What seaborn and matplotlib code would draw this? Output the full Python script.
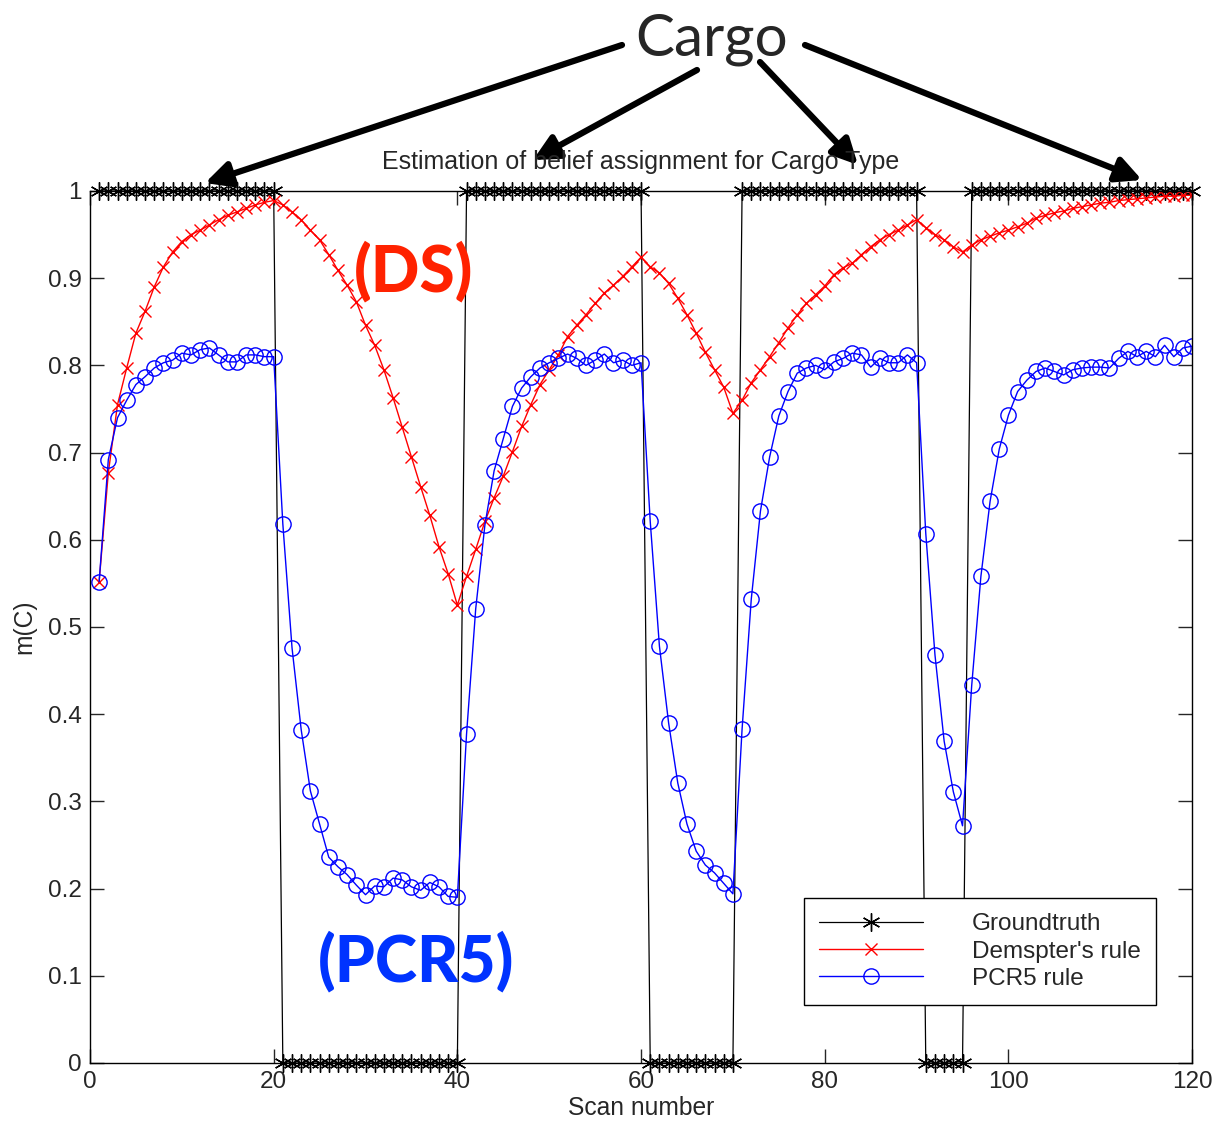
import numpy as np
import pandas as pd
import seaborn as sns
import matplotlib
matplotlib.use("Agg")
import matplotlib.pyplot as plt

# scan indices 1..120
scans = list(range(1, 121))

# ground truth: 1 = Cargo, 0 = not cargo
truth_segments = [(1, 20, 1), (21, 40, 0), (41, 60, 1), (61, 70, 0),
                  (71, 90, 1), (91, 95, 0), (96, 120, 1)]
groundtruth = []
for start, stop, val in truth_segments:
    groundtruth += [val] * (stop - start + 1)

ds_rule = [
    0.552, 0.677, 0.755, 0.797, 0.837, 0.862, 0.890, 0.913, 0.930, 0.942,
    0.950, 0.955, 0.961, 0.967, 0.972, 0.976, 0.980, 0.984, 0.987, 0.989,
    0.984, 0.976, 0.967, 0.955, 0.944, 0.927, 0.909, 0.892, 0.873, 0.846,
    0.823, 0.795, 0.763, 0.729, 0.695, 0.661, 0.628, 0.592, 0.561, 0.525,
    0.558, 0.589, 0.621, 0.648, 0.673, 0.701, 0.730, 0.755, 0.778, 0.795,
    0.812, 0.833, 0.846, 0.858, 0.871, 0.883, 0.892, 0.902, 0.913, 0.924,
    0.913, 0.906, 0.894, 0.877, 0.858, 0.837, 0.815, 0.795, 0.775, 0.745,
    0.760, 0.780, 0.795, 0.810, 0.826, 0.843, 0.858, 0.871, 0.881, 0.891,
    0.904, 0.912, 0.917, 0.927, 0.936, 0.944, 0.950, 0.955, 0.961, 0.967,
    0.958, 0.950, 0.944, 0.936, 0.930, 0.938, 0.944, 0.948, 0.952, 0.955,
    0.959, 0.963, 0.969, 0.972, 0.975, 0.977, 0.980, 0.982, 0.984, 0.986,
    0.987, 0.989, 0.990, 0.991, 0.992, 0.993, 0.994, 0.994, 0.995, 0.995,
]

pcr5_rule = [
    0.552, 0.692, 0.740, 0.760, 0.778, 0.787, 0.797, 0.803, 0.806, 0.814,
    0.812, 0.818, 0.820, 0.812, 0.804, 0.804, 0.812, 0.812, 0.810, 0.810,
    0.618, 0.476, 0.382, 0.312, 0.274, 0.236, 0.225, 0.216, 0.204, 0.193,
    0.203, 0.202, 0.212, 0.210, 0.202, 0.198, 0.207, 0.202, 0.191, 0.190,
    0.377, 0.521, 0.617, 0.679, 0.716, 0.753, 0.774, 0.787, 0.797, 0.803,
    0.808, 0.813, 0.808, 0.800, 0.806, 0.813, 0.803, 0.806, 0.800, 0.803,
    0.621, 0.478, 0.390, 0.321, 0.274, 0.243, 0.227, 0.218, 0.206, 0.194,
    0.383, 0.532, 0.633, 0.695, 0.742, 0.770, 0.791, 0.797, 0.800, 0.795,
    0.804, 0.808, 0.814, 0.812, 0.798, 0.808, 0.803, 0.803, 0.812, 0.803,
    0.607, 0.468, 0.369, 0.311, 0.272, 0.433, 0.558, 0.644, 0.704, 0.743,
    0.770, 0.783, 0.793, 0.797, 0.793, 0.789, 0.795, 0.797, 0.798, 0.798,
    0.797, 0.808, 0.816, 0.810, 0.816, 0.810, 0.823, 0.810, 0.820, 0.822,
]

df = pd.DataFrame({"Scan": scans, "truth": groundtruth,
                   "ds": ds_rule, "pcr5": pcr5_rule})

sns.set_style("ticks")
plt.rcParams["font.family"] = ["Liberation Sans", "DejaVu Sans"]
plt.rcParams["xtick.direction"] = "in"
plt.rcParams["ytick.direction"] = "in"

fig = plt.figure(figsize=(12.14, 11.3), dpi=100)
ax = fig.add_axes([0.0741, 0.0593, 0.9079, 0.7717])

sns.lineplot(x="Scan", y="truth", data=df, ax=ax, color="black", lw=0.9,
             marker=(6, 2, 0), markersize=13, markeredgewidth=1.0,
             markeredgecolor="black", label="Groundtruth", clip_on=False)
sns.lineplot(x="Scan", y="ds", data=df, ax=ax, color="red", lw=1.0,
             marker="x", markersize=8, markeredgewidth=1.0,
             markeredgecolor="red", label="Demspter's rule")
sns.lineplot(x="Scan", y="pcr5", data=df, ax=ax, color="blue", lw=1.0,
             marker="o", markersize=11, markerfacecolor="none",
             markeredgewidth=1.0, markeredgecolor="blue", label="PCR5 rule")

ax.set_xlim(0, 120)
ax.set_ylim(0, 1)
ax.set_xticks(range(0, 121, 20))
ax.set_yticks(np.arange(0, 1.01, 0.1))
ax.set_yticklabels(["0", "0.1", "0.2", "0.3", "0.4", "0.5", "0.6", "0.7",
                    "0.8", "0.9", "1"])
ax.tick_params(axis="both", which="both", labelsize=17.5, length=10, width=1,
               top=True, right=True, pad=6)
for sp in ax.spines.values():
    sp.set_linewidth(1.0)
    sp.set_color("black")

ax.set_xlabel("Scan number", fontsize=17.7, labelpad=2)
ax.set_ylabel("m(C)", fontsize=17.7, labelpad=8)
ax.set_title("Estimation of belief assignment for Cargo Type", fontsize=18,
             pad=16)

leg = ax.legend(loc="lower right", bbox_to_anchor=(0.967, 0.0665),
                borderaxespad=0, fontsize=17.5, frameon=True, fancybox=False,
                edgecolor="black", framealpha=1, handlelength=4.3,
                handletextpad=2.0, labelspacing=0.22, borderpad=0.62)
leg.get_frame().set_linewidth(1.0)

# annotations
fig.text(712 / 1214, 1 - 40 / 1130, "Cargo", fontsize=42, family="Lato",
         ha="center", va="center")
fig.text(414 / 1214, 1 - 272 / 1130, "(DS)", fontsize=46, family="Lato",
         fontweight="black", color="#ff2200", ha="center", va="center")
fig.text(416 / 1214, 1 - 962 / 1130, "(PCR5)", fontsize=46, family="Lato",
         fontweight="black", color="#0033ff", ha="center", va="center")

arrows = [((622, 45), (205, 183)), ((697, 70), (533, 160)),
          ((760, 62), (858, 165)), ((805, 45), (1142, 180))]
for (x0, y0), (x1, y1) in arrows:
    ax.annotate("", xy=(x1 / 1214, 1 - y1 / 1130),
                xytext=(x0 / 1214, 1 - y0 / 1130),
                xycoords="figure fraction", textcoords="figure fraction",
                arrowprops=dict(arrowstyle="-|>", lw=4.5, color="black",
                                mutation_scale=38, shrinkA=0, shrinkB=0),
                annotation_clip=False)

fig.savefig("out.png", dpi=100)
